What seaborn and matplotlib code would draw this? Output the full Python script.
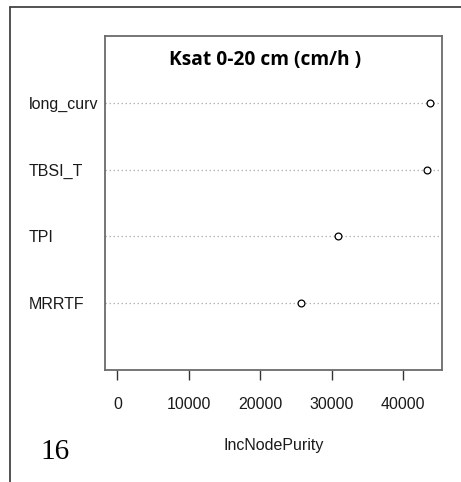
import matplotlib
matplotlib.use("Agg")
import matplotlib.pyplot as plt
from matplotlib.lines import Line2D
import seaborn as sns
import pandas as pd

# data (bottom to top as drawn)
variables = ["MRRTF", "TPI", "TBSI_T", "long_curv"]
inc_node_purity = [25620, 30860, 43340, 43660]
x_ticks = [0, 10000, 20000, 30000, 40000]
title = "Ksat 0-20 cm (cm/h )"
x_label = "IncNodePurity"
panel_number = "16"

df = pd.DataFrame({"variable": variables, "IncNodePurity": inc_node_purity})

sns.set_theme(style="white")
plt.rcParams["font.family"] = ["Liberation Sans", "DejaVu Sans"]

W, H = 461, 482
fig = plt.figure(figsize=(W / 100, H / 100), dpi=100)
ax = fig.add_axes([105 / W, 1 - 370 / H, (442 - 105) / W, (370 - 36) / H])

ax.yaxis.grid(True, linestyle=(0, (1.2, 2.0)), color="#b5b5b5", linewidth=0.9)
ax.xaxis.grid(False)
ax.set_axisbelow(True)

sns.scatterplot(data=df, x="IncNodePurity", y="variable", ax=ax,
                marker="o", s=24, facecolor="white", edgecolor="black",
                linewidth=0.9, zorder=3)

xmax = max(inc_node_purity)
ax.set_xlim(-0.04 * xmax, 1.04 * xmax)
ax.set_ylim(-1, len(variables))
ax.set_xticks(x_ticks)
ax.set_xticklabels([str(t) for t in x_ticks])

for s in ax.spines.values():
    s.set_visible(True)
    s.set_color("#6b6b6b")
    s.set_linewidth(1.3)

ax.tick_params(axis="x", direction="out", length=7.5, width=1.0, color="#333333",
               pad=12, labelsize=11.5, labelcolor="#1a1a1a", bottom=True)
ax.tick_params(axis="y", length=0, pad=55, labelsize=11.5, labelcolor="#1a1a1a")
for lab in ax.get_yticklabels():
    lab.set_horizontalalignment("left")

ax.set_ylabel("")
ax.set_xlabel(x_label, fontsize=11.5, color="#1a1a1a", labelpad=19)

ax.text(0.476, 0.928, title, transform=ax.transAxes, ha="center", va="center",
        fontsize=13.8, fontweight="bold", family="Open Sans", color="black")

fig.text(55 / W, 1 - 452 / H, panel_number, ha="center", va="center",
         fontsize=21, family="Liberation Serif", color="black")

# outer frame
fig.add_artist(Line2D([10 / W, 1.0], [1 - 7 / H, 1 - 7 / H], transform=fig.transFigure,
                      color="#444444", linewidth=1.3))
fig.add_artist(Line2D([10 / W, 10 / W], [1 - 7 / H, 0.0], transform=fig.transFigure,
                      color="#444444", linewidth=1.3))

fig.savefig("out.png", dpi=100)
